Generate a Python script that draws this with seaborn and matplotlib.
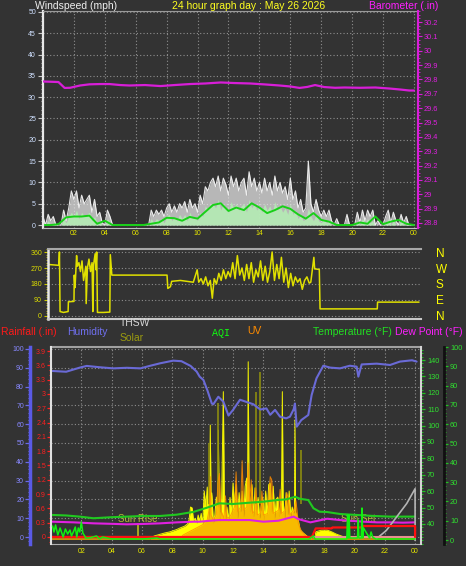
import numpy as np
import matplotlib
matplotlib.use("Agg")
import matplotlib.pyplot as plt
from matplotlib.ticker import MultipleLocator
import seaborn as sns

BG = "#333333"
GRID = "#8f8f8f"
YELLOW = "#e6e600"

sns.set_style("ticks", {"axes.facecolor": BG, "figure.facecolor": BG,
                        "axes.edgecolor": "#bbbbbb"})
plt.rcParams["font.family"] = ["Liberation Sans", "DejaVu Sans"]

# ---------------- data ----------------
title = "24 hour graph day : May 26 2026"

# wind, one sample every 10 minutes
wind_minutes = np.arange(0, 1441, 10)
gust = [2, 0, 2.5, 1, 2, 0,
        0, 0, 3.5, 1, 4, 8,
        6, 8, 4, 7, 5, 6,
        7, 3, 6, 2, 3, 0.5,
        0, 3.5, 2, 0, 0, 0,
        0, 0, 0, 0, 0, 0,
        0, 0, 0, 0, 0, 0,
        3.5, 2, 3.5, 2.5, 3.5, 2,
        4, 5, 3, 4.5, 3, 5,
        4, 5.5, 3, 6, 4, 5,
        3, 7, 5, 9, 8, 10,
        11, 9, 11.5, 8, 11, 9.5,
        7, 11.5, 9, 11, 8, 10,
        11, 7, 12.5, 9, 11, 8,
        10, 7.5, 11, 8, 10, 7,
        11.5, 8, 10, 7.5, 9, 6,
        11, 6, 8, 4, 6, 3,
        4, 15, 5, 3, 6, 3.5,
        2, 3.5, 2, 3.5, 1, 0,
        1.5, 0, 0, 0, 2.5, 0,
        0, 0, 3, 0.5, 3.5, 1,
        3.5, 2, 3.5, 0, 1, 0,
        0, 2, 3.5, 0.5, 3, 1,
        0, 2.5, 0.5, 2, 0, 0,
        0]
speed = [0.5, 0, 1, 0, 0.5, 0,
         0, 0, 1.5, 0.5, 2, 3,
         2, 3.5, 1.5, 3, 2, 2.5,
         3, 1, 2, 0.5, 1, 0,
         0, 1.5, 0.5, 0, 0, 0,
         0, 0, 0, 0, 0, 0,
         0, 0, 0, 0, 0, 0,
         1.5, 0.5, 1.5, 1, 1.5, 0.5,
         2, 2.5, 1, 2, 1, 2.5,
         1.5, 2.5, 1, 3, 1.5, 2,
         1, 3, 2, 4.5, 3.5, 5,
         5, 4, 6, 3.5, 5, 4,
         3, 5.5, 4, 5, 3.5, 4.5,
         5, 3, 6, 4, 5, 3.5,
         4.5, 3, 5, 3.5, 4.5, 3,
         5.5, 3.5, 4.5, 3, 4, 2.5,
         5, 2.5, 3.5, 1.5, 2.5, 1,
         1.5, 4, 2, 1, 2.5, 1,
         0.5, 1.5, 0.5, 1, 0, 0,
         0.5, 0, 0, 0, 0.5, 0,
         0, 0, 1, 0, 1.5, 0.5,
         1.5, 0.5, 1, 0, 0, 0,
         0, 0.5, 1.5, 0, 1, 0,
         0, 1, 0, 0.5, 0, 0,
         0]
avg_hours = np.arange(0, 24.01, 0.5)
avg_speed = [0, 0, 0.2, 1.8, 2.0, 2.0, 2.2, 0.3, 1.0, 0, 0, 0, 0, 0, 0.3, 0.6,
             1.7, 1.6, 1.0, 1.9, 1.5, 3.1, 4.7, 5.1, 3.3, 4.1, 3.5, 5.1, 4.1,
             2.8, 3.5, 4.4, 3.8, 2.5, 1.5, 2.8, 1.2, 0.8, 0, 0, 0, 0.6, 0.3,
             2.0, 0.2, 0.8, 1.2, 0.3, 0]

baro_hours = [0, 1.0, 1.4, 1.75, 2.4, 3.0, 3.7, 4.3, 5.0, 5.6, 6.6, 7.6, 8.5,
              9.5, 10.5, 11.5, 12.4, 13.4, 14.4, 15.3, 16.0, 16.6, 17.1, 17.6,
              18.2, 18.9, 19.5, 20.5, 21.5, 22.4, 23.1, 23.7, 24.0]
baro = [29.786, 29.782, 29.741, 29.742, 29.758, 29.766, 29.768, 29.768,
        29.761, 29.758, 29.761, 29.754, 29.761, 29.768, 29.772, 29.779,
        29.775, 29.772, 29.765, 29.758, 29.751, 29.741, 29.748, 29.761,
        29.747, 29.742, 29.744, 29.742, 29.744, 29.737, 29.730, 29.723, 29.723]
baro_ticks = [28.8, 28.9, 29.0, 29.1, 29.2, 29.3, 29.4, 29.5, 29.6, 29.7,
              29.8, 29.9, 30.0, 30.1, 30.2]

dir_hours = [0.0, 0.7, 0.74, 0.78, 1.0, 1.3, 1.32, 1.68, 1.7, 1.75, 1.8, 1.85,
             1.9, 2.0, 2.1, 2.2, 2.3, 2.45, 2.47, 2.55, 2.65, 2.75, 2.85, 2.9,
             2.95, 3.05, 3.1, 3.15, 3.2, 3.6, 4.0, 4.03, 4.13, 7.7, 7.75, 7.92,
             8.0, 8.57, 9.4, 9.65, 9.75, 9.9, 10.05, 10.2, 10.35, 10.5, 10.63,
             10.75, 10.9, 11.05, 11.2, 11.35, 11.5, 11.65, 11.8, 11.95, 12.1,
             12.25, 12.4, 12.55, 12.7, 12.85, 13.0, 13.15, 13.3, 13.45, 13.6,
             13.75, 13.9, 14.05, 14.2, 14.35, 14.5, 14.65, 14.8, 14.95, 15.1,
             15.25, 15.4, 15.55, 15.7, 15.85, 16.0, 16.15, 16.3, 16.45, 16.6,
             16.75, 16.9, 17.0, 17.1, 17.2, 17.25, 17.55, 17.6, 21.3, 21.32, 24.0]
dir_deg = [290, 285, 360, 25, 20, 25, 80, 82, 230, 160, 250, 340,
           280, 300, 250, 310, 200, 280, 70, 270, 320, 250, 300, 25,
           290, 350, 260, 360, 20, 20, 22, 345, 230, 230, 155, 165,
           195, 200, 190, 260, 190, 210, 180, 220, 170, 200, 100,
           210, 180, 240, 200, 260, 210, 250, 220, 300, 210,
           340, 230, 270, 200, 290, 210, 300, 190, 260, 220,
           310, 200, 280, 190, 250, 360, 200, 290, 210, 330,
           190, 270, 160, 240, 170, 220, 190, 210, 150, 200,
           220, 185, 190, 260, 330, 265, 262, 40, 40, 78, 78]
dir_ticks = [0, 90, 180, 270, 360]
compass = ["N", "E", "S", "W", "N"]

hum_hours = [0.1, 1.0, 1.9, 2.35, 3.2, 4.1, 5.0, 5.9, 6.5, 7.2, 8.05, 8.6,
             9.2, 9.6, 9.8, 10.05, 10.3, 10.6, 10.7, 11.03, 11.36, 11.7, 12.0,
             12.46, 12.9, 13.34, 13.8, 14.2, 14.45, 14.77, 15.1, 15.5, 15.75,
             16.0, 16.08, 16.2, 16.5, 16.96, 17.18, 17.5, 17.95, 18.4, 19.05,
             19.7, 20.15, 20.26, 20.48, 21.47, 22.35, 23.0, 23.8, 24.1]
humidity = [88.3, 87.9, 90.1, 91.0, 90.3, 89.7, 90.0, 89.7, 91.0, 92.4, 93.8,
            93.5, 91.0, 88.0, 85.3, 83.5, 78.2, 71.0, 70.6, 74.6, 72.0, 64.6,
            67.6, 73.0, 71.8, 70.6, 67.8, 68.4, 65.0, 67.6, 64.0, 63.1, 64.0,
            68.0, 71.0, 58.7, 62.2, 64.9, 75.5, 84.4, 91.1, 90.1, 89.7, 91.1,
            90.6, 85.3, 91.8, 92.2, 91.5, 93.3, 94.0, 93.3]

temp_hours = [0.1, 1.0, 1.9, 2.8, 3.9, 5.0, 6.1, 7.2, 8.3, 9.4, 10.3, 11.1,
              12.0, 13.1, 14.0, 14.9, 15.5, 16.1, 16.4, 16.96, 17.3, 17.7,
              18.2, 19.05, 20.15, 21.25, 22.35, 24.0]
temperature = [45.5, 45.2, 44.5, 43.5, 44.1, 44.5, 44.9, 44.9, 45.7, 47.4,
               50.0, 52.6, 52.2, 53.0, 53.6, 54.6, 55.0, 56.6, 55.4, 54.6,
               49.6, 47.5, 47.3, 46.1, 45.5, 44.9, 44.5, 44.5]

dew_hours = [0.1, 1.5, 2.8, 4.0, 5.0, 6.0, 7.2, 8.3, 9.4, 9.8, 10.5, 11.1,
             12.0, 13.1, 14.0, 15.0, 16.0, 16.3, 16.7, 17.1, 17.6, 18.2,
             19.05, 20.0, 20.6, 21.5, 22.35, 23.2, 24.0]
dew_point = [41.4, 41.0, 40.4, 40.1, 39.8, 40.0, 40.4, 41.0, 41.4, 41.4,
             42.0, 42.4, 42.4, 42.4, 41.4, 42.0, 44.5, 43.0, 42.0, 41.0,
             42.0, 43.2, 42.4, 41.8, 41.4, 41.0, 41.0, 40.8, 41.0]

thsw_hours = [21.45, 22.1, 22.8, 23.45, 24.0, 24.0]
thsw = [31.0, 36.0, 44.5, 52.5, 61.5, 30.0]

rain_hours = [0, 17.2, 17.45, 18.5, 18.55, 20.45, 20.5, 24.0, 24.0]
rain = [0, 0, 0.18, 0.18, 0.2, 0.2, 0.23, 0.23, 0]
rain_rate_hours = [0, 24.0]
rain_rate = [0, 0]
rain_ticks = [0, 0.3, 0.6, 0.9, 1.2, 1.5, 1.8, 2.1, 2.4, 2.7, 3.0, 3.3, 3.6, 3.9]

solar_hours = [0, 6.5, 6.8, 7.2, 7.5, 7.8, 8.0, 8.3, 8.5, 8.8, 9.0, 9.1, 9.2,
               9.3, 9.4, 9.5, 9.6, 9.7, 9.8, 9.9, 10.0, 10.1, 10.2, 10.3, 10.4,
               10.45, 10.5, 10.55, 10.6, 10.7, 10.8, 10.9, 11.0, 11.03, 11.08,
               11.15, 11.25, 11.36, 11.42, 11.5, 11.6, 11.7, 11.8, 11.9, 12.0,
               12.1, 12.2, 12.3, 12.4, 12.5, 12.6, 12.7, 12.8, 12.9, 12.95,
               13.0, 13.05, 13.15, 13.25, 13.35, 13.45, 13.55, 13.65, 13.75,
               13.85, 13.95, 14.05, 14.15, 14.25, 14.35, 14.45, 14.55, 14.65,
               14.75, 14.85, 14.95, 15.05, 15.15, 15.2, 15.25, 15.3, 15.4,
               15.5, 15.6, 15.7, 15.8, 15.9, 16.0, 16.05, 16.08, 16.12, 16.2,
               16.3, 16.4, 16.6, 16.85, 17.07, 17.2, 17.4, 17.45, 17.8, 18.2,
               18.5, 18.8, 19.4, 19.5, 24]
solar = [0, 0, 19, 30, 38, 44, 50, 60, 69, 80, 94, 120, 200,
         195, 110, 130, 100, 150, 110, 160, 90, 300, 200, 325, 120,
         250, 712, 230, 288, 100, 150, 262, 200, 681, 220,
         110, 250, 921, 262, 120, 200, 110, 260, 150, 350,
         200, 340, 130, 290, 170, 300, 140, 330, 381, 200,
         1108, 330, 170, 340, 140, 320, 180, 260, 130,
         200, 262, 120, 300, 150, 340, 350, 170, 330,
         130, 250, 262, 140, 240, 360, 921, 240, 130,
         290, 150, 300, 140, 200, 160, 190, 744, 170, 150,
         120, 60, 40, 20, 6, 0, 0, 45, 55, 56,
         45, 31, 10, 0, 0]
solar_peak_hours = [10.4, 11.0, 13.5, 13.78, 16.5]
solar_peak = [600, 850, 921, 1046, 556]

uv_hours = [0, 8.5, 8.7, 9.2, 9.6, 10.0, 10.3, 10.45, 10.5, 10.55, 10.7, 10.9,
            11.0, 11.1, 11.2, 11.4, 11.5, 11.6, 11.8, 12.1, 12.2, 12.3, 12.5,
            12.6, 12.7, 12.9, 13.0, 13.1, 13.2, 13.3, 13.45, 13.5, 13.6, 13.8,
            13.9, 14.0, 14.3, 14.45, 14.55, 14.65, 15.0, 15.1, 15.2, 15.45,
            15.55, 15.65, 15.75, 16.0, 16.15, 16.3, 16.5, 16.8, 17.0, 17.2, 24]
uv = [0, 0, 0.25, 0.5, 0.7, 0.9, 1.2, 2.0, 3.9, 1.5, 1.2, 1.5,
      3.5, 4.1, 1.8, 1.3, 2.7, 1.3, 1.4, 2.0, 4.2, 1.7, 2.0,
      4.9, 1.8, 2.0, 4.75, 2.4, 3.7, 1.6, 1.8, 3.2, 1.5, 1.6,
      3.0, 1.5, 1.6, 3.9, 3.7, 1.6, 1.8, 3.1, 1.6, 1.8,
      2.9, 2.5, 1.5, 1.8, 2.4, 1.0, 0.5, 0.2, 0.1, 0, 0]

aqi_hours = [0.1, 0.2, 0.3, 0.45, 0.6, 0.8, 0.95, 1.1, 1.25, 1.35, 1.5, 1.6,
             1.7, 1.8, 1.9, 2.0, 2.1, 2.3, 2.5, 3.0, 3.2, 3.4, 4.0, 6.0, 7.0,
             7.2, 9.0, 12.0, 17.0, 17.3, 17.4, 19.5, 19.55, 19.6, 19.65, 19.7,
             20.2, 20.26, 20.3, 20.45, 20.5, 20.55, 20.6, 21.0, 21.1, 21.2,
             21.4, 22.0, 24.0]
aqi = [14, 8, 15, 5, 12, 3, 11, 6, 10, 4, 9, 13, 3, 12, 8, 18, 7, 2, 2, 4, 1,
       3, 1, 1, 2, 1, 1, 1, 1, 4, 1, 1, 25, 2, 25, 2, 2, 20, 2, 2, 32, 2, 12,
       2, 8, 3, 1, 1, 1]

sun_events = ["Sun Rise", "Sun Set"]
sun_hours = [5.73, 20.24]

hour_ticks = list(range(2, 25, 2))
hour_labels = [f"{h % 24:02d}" for h in hour_ticks]

# ---------------- helpers ----------------
W, H = 466, 566
fig = plt.figure(figsize=(W / 100, H / 100), dpi=100, facecolor=BG)


def box(left, top, right, bottom):
    return [left / W, 1 - bottom / H, (right - left) / W, (bottom - top) / H]


def px(n):
    return n * 0.72


def line(ax, x, y, color, lw, alpha=1.0):
    sns.lineplot(x=list(x), y=list(y), ax=ax, color=color, linewidth=lw,
                 alpha=alpha, estimator=None, sort=False, legend=False)


def hide(ax):
    for s in ax.spines.values():
        s.set_visible(False)
    ax.set_yticks([])


def label(x, y, s, color, size=7.5, ha="left", **kw):
    fig.text(x / W, 1 - y / H, s, color=color, fontsize=size, ha=ha,
             va="center", **kw)


dots = (0, (1, 2))

# ---------------- panel 1 : wind + barometer ----------------
ax1 = fig.add_axes(box(43, 11, 418, 228))
wind_hours = wind_minutes / 60
ax1.fill_between(wind_hours, 0, gust, color="#f0f0f0", alpha=0.7, linewidth=0)
line(ax1, wind_hours, gust, "#f8f8f8", 0.8, alpha=0.9)
ax1.fill_between(wind_hours, 0, speed, color="#b4ecb4", alpha=0.9, linewidth=0)
line(ax1, avg_hours, avg_speed, "#18d018", 1.4)
ax1.set_ylim(-0.7, 50.23)
ax1.set_yticks(range(0, 51, 5))
ax1.yaxis.set_minor_locator(MultipleLocator(1))
ax1.set_xticks(hour_ticks, hour_labels)
ax1.tick_params(axis="x", length=0, pad=px(2), labelsize=5, labelcolor=YELLOW)
ax1.tick_params(axis="y", which="major", length=px(5), width=0.8,
                color="#c8c8c8", labelsize=5, labelcolor="#cfe0ff", pad=px(2))
ax1.tick_params(axis="y", which="minor", length=px(2.5), width=0.6,
                color="#c8c8c8")
ax1.grid(True, color=GRID, linestyle=dots, linewidth=0.8)
ax1.spines["left"].set_color("#e8e8e8")
ax1.spines["left"].set_linewidth(1.6)
ax1.spines["top"].set_color("#9a9a9a")
ax1.spines["bottom"].set_color("#c0c0c0")
ax1.spines["right"].set_visible(False)
ax1.set_xlabel("")
ax1.set_ylabel("")

ax1b = ax1.twinx()
line(ax1b, baro_hours, baro, "#d81ed8", 1.6)
ax1b.set_ylim(28.765, 30.277)
ax1b.set_yticks(baro_ticks, [f"{v:g}" for v in baro_ticks])
ax1b.yaxis.set_minor_locator(MultipleLocator(0.025))
ax1b.tick_params(axis="y", which="major", length=px(4), width=0.8,
                 color="#d81ed8", labelsize=5.3, labelcolor="#e020e0",
                 pad=px(2))
ax1b.tick_params(axis="y", which="minor", length=px(2), width=0.6,
                 color="#d81ed8")
for s in ["left", "top", "bottom"]:
    ax1b.spines[s].set_visible(False)
ax1b.spines["right"].set_color("#d81ed8")
ax1b.spines["right"].set_linewidth(1.5)
ax1b.set_ylabel("")
ax1.set_xlim(0, 24.26)

label(35, 6, "Windspeed (mph)", "#f0f0f0")
label(172, 6, title, "#ffff20")
label(438, 6, "Barometer (.in)", "#ff20ff", ha="right")

# ---------------- panel 2 : wind direction ----------------
ax2 = fig.add_axes(box(48, 249, 421, 319))
line(ax2, dir_hours, dir_deg, "#e0e000", 1.1)
ax2.set_ylim(-16.9, 376.9)
ax2.set_yticks(dir_ticks)
ax2.yaxis.set_minor_locator(MultipleLocator(15))
ax2.set_xticks([])
ax2.grid(True, axis="y", color=GRID, linestyle=dots, linewidth=0.8)
ax2.tick_params(axis="y", which="major", length=px(4), width=0.8,
                color="#c8c800", labelsize=5, labelcolor="#dede00", pad=px(2))
ax2.tick_params(axis="y", which="minor", length=px(2), width=0.6,
                color="#c8c800")
ax2.spines["left"].set_color("#e8e8e8")
ax2.spines["left"].set_linewidth(1.8)
ax2.spines["top"].set_color("#a8a8a8")
ax2.spines["top"].set_linewidth(1.5)
ax2.spines["bottom"].set_color("#c8c8c8")
ax2.spines["bottom"].set_linewidth(1.5)
ax2.spines["right"].set_visible(False)
ax2.set_xlabel("")
ax2.set_ylabel("")
ax2r = ax2.twinx()
ax2r.set_ylim(-16.9, 376.9)
ax2r.set_yticks(dir_ticks, compass)
ax2r.tick_params(axis="y", length=0, pad=px(15), labelsize=8.5,
                 labelcolor="#ffff00")
for s in ax2r.spines.values():
    s.set_visible(False)
ax2.set_xlim(0, 24.13)

# ---------------- panel 3 : humidity, solar, temperature ... ----------------
ax3 = fig.add_axes(box(51, 347, 421, 544))
ax3.set_ylim(-3.72, 101.06)
ax3.set_yticks(range(0, 101, 10))
ax3.yaxis.set_minor_locator(MultipleLocator(2))
ax3.grid(True, color=GRID, linestyle=dots, linewidth=0.8)
ax3.spines["left"].set_position(("outward", px(21)))
ax3.spines["left"].set_color("#5a5ae6")
ax3.spines["left"].set_linewidth(2.5)
ax3.spines["top"].set_color("#a0a0a0")
ax3.spines["top"].set_linewidth(1.5)
ax3.spines["bottom"].set_color("#b0b0b0")
ax3.spines["right"].set_visible(False)
ax3.tick_params(axis="y", which="major", length=px(5), width=0.9,
                color="#6a6ae6", labelsize=5, labelcolor="#8888ff", pad=px(1))
ax3.tick_params(axis="y", which="minor", length=px(2.5), width=0.7,
                color="#6a6ae6")
ax3.set_xticks(hour_ticks, hour_labels)
ax3.tick_params(axis="x", length=0, pad=px(4), labelsize=5, labelcolor=YELLOW)

# solar (hidden scale)
ax3s = ax3.twinx()
hide(ax3s)
ax3s.fill_between(solar_hours, 0, solar, color="#ffff00", linewidth=0)
line(ax3s, solar_hours, solar, "#f4f400", 0.7)
ax3s.vlines(solar_peak_hours, 220, solar_peak, color="#8c8c10", linewidth=1.2)
ax3s.vlines(sun_hours, 0, 100, color="#a8a820", linewidth=1.4)
for name, h in zip(sun_events, sun_hours):
    ax3s.text(h, 128, name, color="#b8b838", fontsize=7, ha="center",
              va="center")
ax3s.set_ylim(-31, 1200)

# UV (hidden scale), translucent over the solar fill
ax3u = ax3.twinx()
hide(ax3u)
ax3u.fill_between(uv_hours, 0, uv, color="#f07800", alpha=0.5, linewidth=0)
line(ax3u, uv_hours, uv, "#ff8c00", 0.7, alpha=0.8)
ax3u.set_ylim(-0.31, 12.0)

# humidity line drawn above the fills
ax3h = ax3.twinx()
hide(ax3h)
line(ax3h, hum_hours, humidity, "#6a6ad6", 1.5)
ax3h.set_ylim(-3.72, 101.06)

# temperature / dew point / THSW
ax3t = ax3.twinx()
line(ax3t, temp_hours, temperature, "#20c820", 1.5)
line(ax3t, dew_hours, dew_point, "#e020e0", 1.5)
line(ax3t, thsw_hours, thsw, "#b4b4b4", 1.2)
ax3t.set_ylim(27.8, 147.93)
ax3t.set_yticks(range(40, 141, 10))
ax3t.yaxis.set_minor_locator(MultipleLocator(2))
ax3t.tick_params(axis="y", which="major", length=px(4), width=0.9,
                 color="#20c020", labelsize=5.3, labelcolor="#30e030",
                 pad=px(2))
ax3t.tick_params(axis="y", which="minor", length=px(2), width=0.7,
                 color="#20c020")
for s in ["left", "top", "bottom"]:
    ax3t.spines[s].set_visible(False)
ax3t.spines["right"].set_color("#d4d4d4")
ax3t.spines["right"].set_linewidth(1.5)
ax3t.set_ylabel("")

# rainfall
ax3r = ax3.twinx()
line(ax3r, rain_rate_hours, rain_rate, "#e89090", 1.5)
line(ax3r, rain_hours, rain, "#ff1010", 1.6)
ax3r.set_ylim(-0.1468, 3.984)
ax3r.yaxis.tick_left()
ax3r.yaxis.set_label_position("left")
ax3r.set_yticks(rain_ticks, [f"{v:g}" for v in rain_ticks])
ax3r.yaxis.set_minor_locator(MultipleLocator(0.1))
ax3r.tick_params(axis="y", which="major", length=px(4), width=0.9,
                 color="#ff2020", labelsize=5, labelcolor="#ff2020", pad=px(1))
ax3r.tick_params(axis="y", which="minor", length=px(2), width=0.7,
                 color="#ff2020")
for s in ["right", "top", "bottom"]:
    ax3r.spines[s].set_visible(False)
ax3r.spines["left"].set_visible(True)
ax3r.spines["left"].set_color("#e0e0e0")
ax3r.spines["left"].set_linewidth(1.5)
ax3r.set_ylabel("")

# far right 0-100 scale
ax3d = ax3.twinx()
ax3d.set_ylim(-2.06, 100.0)
ax3d.set_yticks(range(0, 101, 10))
ax3d.yaxis.set_minor_locator(MultipleLocator(2))
ax3d.spines["right"].set_position(("outward", px(23)))
ax3d.spines["right"].set_color("#101010")
ax3d.spines["right"].set_linewidth(2)
for s in ["left", "top", "bottom"]:
    ax3d.spines[s].set_visible(False)
ax3d.tick_params(axis="y", which="major", length=px(4), width=0.9,
                 color="#20c020", labelsize=5.3, labelcolor="#30e030",
                 pad=px(2))
ax3d.tick_params(axis="y", which="minor", length=px(2), width=0.7,
                 color="#20c020")

# AQI (hidden scale)
ax3a = ax3.twinx()
hide(ax3a)
line(ax3a, aqi_hours, aqi, "#10f010", 1.1)
ax3a.set_ylim(-4, 193)

ax3.set_xlim(0, 24.39)

# legend row of the bottom panel
label(1, 332, "Rainfall (.in)", "#ff1a1a")
label(67, 332, "Humidity", "#7070f0")
label(120, 323, "THSW", "#d8d8d8")
label(120, 338, "Solar", "#9a9a10")
label(212, 333, "AQI", "#10ff10", size=7.2, family="Liberation Mono")
label(247, 331, "UV", "#ff8c00")
label(313, 332, "Temperature (°F)", "#22e022")
label(395, 332, "Dew Point (°F)", "#ff20ff")

fig.savefig("out.png", dpi=100, facecolor=BG)
